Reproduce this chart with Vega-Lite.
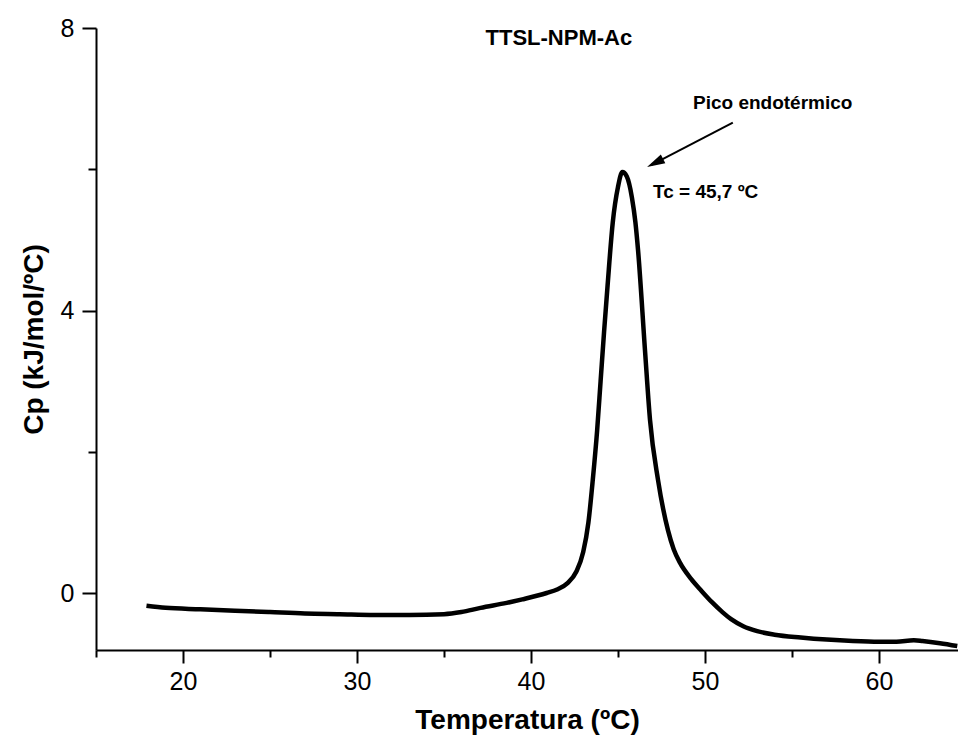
{
  "$schema": "https://vega.github.io/schema/vega-lite/v6.json",
  "width": 862,
  "height": 622,
  "autosize": {"type": "none"},
  "padding": {"left": 96, "top": 28, "right": 0, "bottom": 104},
  "background": "white",
  "config": {
    "view": {"stroke": null},
    "axis": {
      "grid": false,
      "domainColor": "black",
      "domainWidth": 2,
      "tickColor": "black",
      "tickWidth": 2,
      "labelFont": "Liberation Sans",
      "labelFontSize": 25,
      "labelColor": "black",
      "titleFont": "Liberation Sans",
      "titleFontWeight": "bold",
      "titleFontSize": 28,
      "titleColor": "black"
    }
  },
  "datasets": {
    "curve": [
      {"T": 17.9, "Cp": -0.18}, {"T": 19, "Cp": -0.21}, {"T": 21, "Cp": -0.23}, {"T": 23, "Cp": -0.25},
      {"T": 25, "Cp": -0.27}, {"T": 27, "Cp": -0.29}, {"T": 29, "Cp": -0.3}, {"T": 31, "Cp": -0.31},
      {"T": 33, "Cp": -0.31}, {"T": 35, "Cp": -0.3}, {"T": 36, "Cp": -0.27}, {"T": 37.1, "Cp": -0.21},
      {"T": 38.6, "Cp": -0.14}, {"T": 39.5, "Cp": -0.09}, {"T": 40.9, "Cp": 0.0}, {"T": 41.5, "Cp": 0.05},
      {"T": 42.1, "Cp": 0.14}, {"T": 42.6, "Cp": 0.3}, {"T": 43.0, "Cp": 0.58}, {"T": 43.3, "Cp": 1.0},
      {"T": 43.55, "Cp": 1.6}, {"T": 43.8, "Cp": 2.3}, {"T": 44.0, "Cp": 3.0}, {"T": 44.2, "Cp": 3.7},
      {"T": 44.4, "Cp": 4.35}, {"T": 44.7, "Cp": 5.25}, {"T": 45.0, "Cp": 5.75}, {"T": 45.25, "Cp": 5.96},
      {"T": 45.5, "Cp": 5.9}, {"T": 45.8, "Cp": 5.6}, {"T": 46.0, "Cp": 5.25}, {"T": 46.15, "Cp": 4.86},
      {"T": 46.55, "Cp": 3.44}, {"T": 46.84, "Cp": 2.45}, {"T": 47.3, "Cp": 1.6}, {"T": 47.87, "Cp": 0.89},
      {"T": 48.2, "Cp": 0.62}, {"T": 48.56, "Cp": 0.43}, {"T": 49.2, "Cp": 0.2}, {"T": 49.8, "Cp": 0.03},
      {"T": 50.4, "Cp": -0.13}, {"T": 51.0, "Cp": -0.27}, {"T": 51.5, "Cp": -0.37}, {"T": 52.2, "Cp": -0.47},
      {"T": 53, "Cp": -0.54}, {"T": 54, "Cp": -0.59}, {"T": 55.5, "Cp": -0.63}, {"T": 57, "Cp": -0.66},
      {"T": 58.5, "Cp": -0.68}, {"T": 60, "Cp": -0.69}, {"T": 61, "Cp": -0.69}, {"T": 62, "Cp": -0.67},
      {"T": 62.5, "Cp": -0.68}, {"T": 63.5, "Cp": -0.71}, {"T": 64.5, "Cp": -0.75}
    ],
    "arrow": [{"T": 51.6, "Cp": 6.66, "T2": 46.9, "Cp2": 6.06}],
    "head": [{"T": 47.13, "Cp": 6.09}],
    "labels": [
      {"T": 41.6, "Cp": 7.86, "txt": "TTSL-NPM-Ac", "fs": "title"},
      {"T": 49.31, "Cp": 6.94, "txt": "Pico endotérmico", "fs": "note"},
      {"T": 47.01, "Cp": 5.68, "txt": "Tc = 45,7 ºC", "fs": "note"}
    ]
  },
  "resolve": {"axis": {"x": "independent", "y": "independent"}},
  "layer": [
    {
      "data": {"name": "curve"},
      "mark": {"type": "line", "color": "black", "strokeWidth": 4.5, "clip": true, "interpolate": "monotone"},
      "encoding": {
        "x": {
          "field": "T", "type": "quantitative",
          "scale": {"domain": [15, 64.54], "nice": false, "zero": false},
          "axis": {
            "orient": "bottom",
            "title": "Temperatura (ºC)",
            "values": [20, 30, 40, 50, 60],
            "format": "d",
            "tickSize": 13,
            "labelPadding": 6,
            "titlePadding": 12
          }
        },
        "y": {
          "field": "Cp", "type": "quantitative",
          "scale": {"domain": [-0.807, 8], "nice": false, "zero": false},
          "axis": {
            "orient": "left",
            "title": "Cp (kJ/mol/ºC)",
            "values": [0, 4, 8],
            "format": "d",
            "tickSize": 14,
            "labelPadding": 8,
            "titlePadding": 12
          }
        }
      }
    },
    {
      "data": {"name": "arrow"},
      "mark": {"type": "rule", "color": "black", "strokeWidth": 2},
      "encoding": {
        "x": {"field": "T", "type": "quantitative",
          "axis": {"orient": "bottom", "values": [15, 25, 35, 45, 55, 65], "labels": false, "domain": false, "tickSize": 7, "title": null}},
        "y": {"field": "Cp", "type": "quantitative",
          "axis": {"orient": "left", "values": [2, 6], "labels": false, "domain": false, "tickSize": 8, "title": null}},
        "x2": {"field": "T2"},
        "y2": {"field": "Cp2"}
      }
    },
    {
      "data": {"name": "head"},
      "mark": {"type": "point", "shape": "M0,-1L0.55,1L-0.55,1Z", "filled": true, "color": "black", "opacity": 1, "size": 324, "angle": 243},
      "encoding": {
        "x": {"field": "T", "type": "quantitative", "axis": null},
        "y": {"field": "Cp", "type": "quantitative", "axis": null}
      }
    },
    {
      "data": {"name": "labels"},
      "transform": [{"filter": "datum.fs === 'title'"}],
      "mark": {"type": "text", "font": "Liberation Sans", "fontWeight": "bold", "fontSize": 22, "align": "center", "baseline": "middle", "color": "black"},
      "encoding": {
        "x": {"field": "T", "type": "quantitative", "axis": null},
        "y": {"field": "Cp", "type": "quantitative", "axis": null},
        "text": {"field": "txt"}
      }
    },
    {
      "data": {"name": "labels"},
      "transform": [{"filter": "datum.fs === 'note'"}],
      "mark": {"type": "text", "font": "Liberation Sans", "fontWeight": "bold", "fontSize": 19, "align": "left", "baseline": "middle", "color": "black"},
      "encoding": {
        "x": {"field": "T", "type": "quantitative", "axis": null},
        "y": {"field": "Cp", "type": "quantitative", "axis": null},
        "text": {"field": "txt"}
      }
    }
  ]
}
